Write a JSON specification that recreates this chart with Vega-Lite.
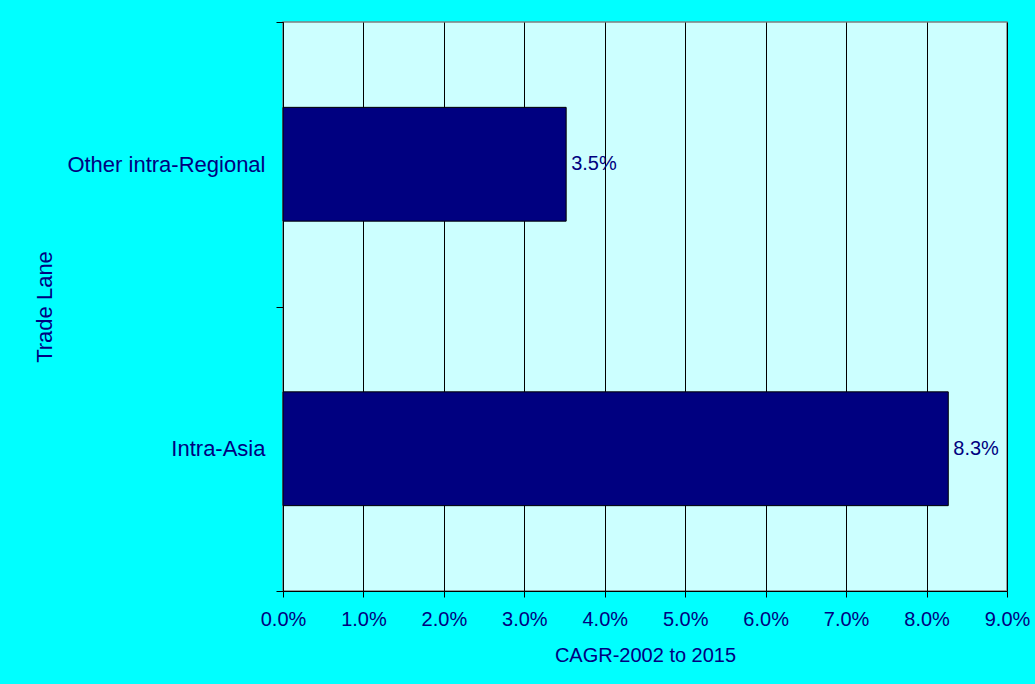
{
  "$schema": "https://vega.github.io/schema/vega-lite/v6.json",
  "autosize": {"type": "none"},
  "width": 724,
  "height": 569,
  "padding": {"left": 283, "top": 22, "right": 28, "bottom": 93},
  "background": "#00FFFF",
  "config": {
    "font": "Liberation Sans",
    "view": {"fill": "#CCFFFF", "stroke": "#808080", "strokeWidth": 1.5}
  },
  "data": {
    "values": [
      {"lane": "Other intra-Regional", "cagr": 0.0352},
      {"lane": "Intra-Asia", "cagr": 0.0827}
    ]
  },
  "encoding": {
    "y": {
      "field": "lane",
      "type": "nominal",
      "sort": ["Other intra-Regional", "Intra-Asia"],
      "scale": {"paddingInner": 0, "paddingOuter": 0},
      "axis": {
        "title": "Trade Lane",
        "titleFontSize": 22,
        "titleFontWeight": "normal",
        "titleColor": "#000080",
        "titleX": -239,
        "titleY": 284.5,
        "titleAngle": -90,
        "titleAlign": "center",
        "titleBaseline": "middle",
        "labelFontSize": 22,
        "labelColor": "#000080",
        "labelPadding": 11,
        "labelLimit": 400,
        "tickSize": 7,
        "tickColor": "#000000",
        "tickBand": "extent",
        "domainColor": "#000000",
        "grid": false
      }
    },
    "x": {
      "field": "cagr",
      "type": "quantitative",
      "scale": {"domain": [0, 0.09], "nice": false},
      "axis": {
        "title": "CAGR-2002 to 2015",
        "values": [0, 0.01, 0.02, 0.03, 0.04, 0.05, 0.06, 0.07, 0.08, 0.09],
        "format": ".1%",
        "labelFlush": false,
        "labelOverlap": false,
        "titleFontSize": 20,
        "titleFontWeight": "normal",
        "titleColor": "#000080",
        "titleY": 64,
        "titleBaseline": "middle",
        "labelFontSize": 20,
        "labelColor": "#000080",
        "labelPadding": 12,
        "tickSize": 6,
        "tickColor": "#000000",
        "domainColor": "#000000",
        "grid": true,
        "gridColor": "#000000",
        "gridOpacity": 1,
        "gridWidth": 1
      }
    }
  },
  "layer": [
    {
      "mark": {"type": "bar", "color": "#000080", "stroke": "#000000", "strokeWidth": 1, "height": {"band": 0.4}}
    },
    {
      "mark": {"type": "text", "align": "left", "baseline": "middle", "dx": 5, "fontSize": 20, "color": "#000080"},
      "encoding": {
        "text": {"field": "cagr", "type": "quantitative", "format": ".1%"}
      }
    }
  ]
}
